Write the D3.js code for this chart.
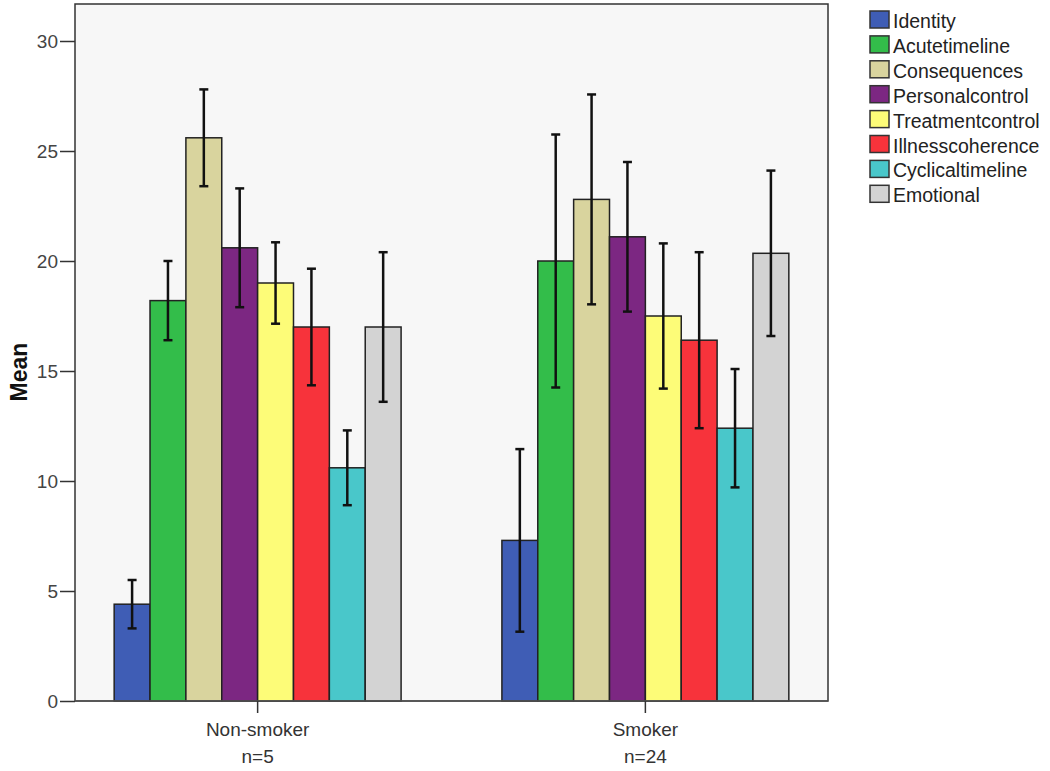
<!DOCTYPE html>
<html><head><meta charset="utf-8">
<script src="https://cdn.jsdelivr.net/npm/d3@7"></script>
<style>body{margin:0;background:#fff}svg{display:block}text{font-family:"Liberation Sans",Arial,sans-serif}</style>
</head><body>
<svg id="chart" width="1050" height="771"></svg>
<script>
const groups = ["Non-smoker", "Smoker"];
const groupN = ["n=5", "n=24"];
const series = ["Identity","Acutetimeline","Consequences","Personalcontrol","Treatmentcontrol","Illnesscoherence","Cyclicaltimeline","Emotional"];
const colors = ["#3f5db5","#33bd4a","#d9d49e","#7c2782","#fdfc78","#f7333b","#49c7ca","#d3d3d3"];
const nonSmokerMean = [4.4, 18.2, 25.6, 20.6, 19.0, 17.0, 10.6, 17.0];
const nonSmokerErr  = [1.1, 1.8, 2.2, 2.7, 1.85, 2.65, 1.7, 3.4];
const smokerMean    = [7.3, 20.0, 22.8, 21.1, 17.5, 16.4, 12.4, 20.35];
const smokerErr     = [4.15, 5.75, 4.77, 3.4, 3.3, 4.0, 2.69, 3.76];
const yTicks = [0,5,10,15,20,25,30];

const means = [nonSmokerMean, smokerMean];
const errs = [nonSmokerErr, smokerErr];

const svg = d3.select("#chart");
const L = 75, R = 828, T = 4, B = 701;

const y = d3.scaleLinear().domain([0, 30]).range([B, B - 660]);
const x0 = d3.scaleBand().domain(groups).range([L, R]).paddingInner(0.26).paddingOuter(0.101);
const x1 = d3.scaleBand().domain(series).range([0, x0.bandwidth()]);

// plot background
svg.append("rect").attr("x", L).attr("y", T).attr("width", R - L).attr("height", B - T)
  .attr("fill", "#f7f7f7").attr("stroke", "#333").attr("stroke-width", 1.5);

// bars
const g = svg.append("g");
groups.forEach((grp, gi) => {
  series.forEach((s, si) => {
    const v = means[gi][si];
    g.append("rect")
      .attr("x", x0(grp) + x1(s))
      .attr("y", y(v))
      .attr("width", x1.bandwidth())
      .attr("height", y(0) - y(v))
      .attr("fill", colors[si])
      .attr("stroke", "#222").attr("stroke-width", 1.5);
  });
});
// error bars
groups.forEach((grp, gi) => {
  series.forEach((s, si) => {
    const v = means[gi][si], e = errs[gi][si];
    const cx = x0(grp) + x1(s) + x1.bandwidth() / 2;
    const eg = g.append("g").attr("stroke", "#111").attr("stroke-width", 2.5);
    eg.append("line").attr("x1", cx).attr("x2", cx).attr("y1", y(v + e)).attr("y2", y(v - e));
    eg.append("line").attr("x1", cx - 4.5).attr("x2", cx + 4.5).attr("y1", y(v + e)).attr("y2", y(v + e));
    eg.append("line").attr("x1", cx - 4.5).attr("x2", cx + 4.5).attr("y1", y(v - e)).attr("y2", y(v - e));
  });
});

// baseline
svg.append("line").attr("x1", L).attr("x2", R).attr("y1", B).attr("y2", B).attr("stroke", "#555").attr("stroke-width", 1.5);

// y axis
const yAxis = svg.append("g").attr("transform", `translate(${L},0)`)
  .call(d3.axisLeft(y).tickValues(yTicks).tickSize(15).tickPadding(2));
yAxis.select(".domain").remove();
yAxis.selectAll("line").attr("stroke", "#333").attr("stroke-width", 1.5);
yAxis.selectAll("text").attr("fill", "#444").style("font-size", "19px");

// x axis
const xAxis = svg.append("g").attr("transform", `translate(0,${B})`)
  .call(d3.axisBottom(x0).tickSize(12).tickFormat(""));
xAxis.select(".domain").remove();
xAxis.selectAll("line").attr("stroke", "#333").attr("stroke-width", 1.5);
groups.forEach((grp, gi) => {
  const cx = x0(grp) + x0.bandwidth() / 2;
  svg.append("text").attr("x", cx).attr("y", 736).attr("text-anchor", "middle")
    .attr("fill", "#333").style("font-size", "19px").text(grp);
  svg.append("text").attr("x", cx).attr("y", 763).attr("text-anchor", "middle")
    .attr("fill", "#333").style("font-size", "19px").text(groupN[gi]);
});

// y label
svg.append("text").attr("transform", "translate(27,372) rotate(-90)")
  .attr("text-anchor", "middle").style("font-size", "23px").style("font-weight", "bold")
  .attr("fill", "#111").text("Mean");

// legend
const lg = svg.append("g").attr("transform", "translate(870,11)");
series.forEach((s, i) => {
  const row = lg.append("g").attr("transform", `translate(0,${i * 24.9})`);
  row.append("rect").attr("x", 0).attr("y", 0).attr("width", 19).attr("height", 17)
    .attr("fill", colors[i]).attr("stroke", "#333").attr("stroke-width", 1.5);
  row.append("text").attr("x", 23).attr("y", 17).attr("fill", "#222")
    .style("font-size", "19.5px").text(s);
});
</script>
</body></html>
